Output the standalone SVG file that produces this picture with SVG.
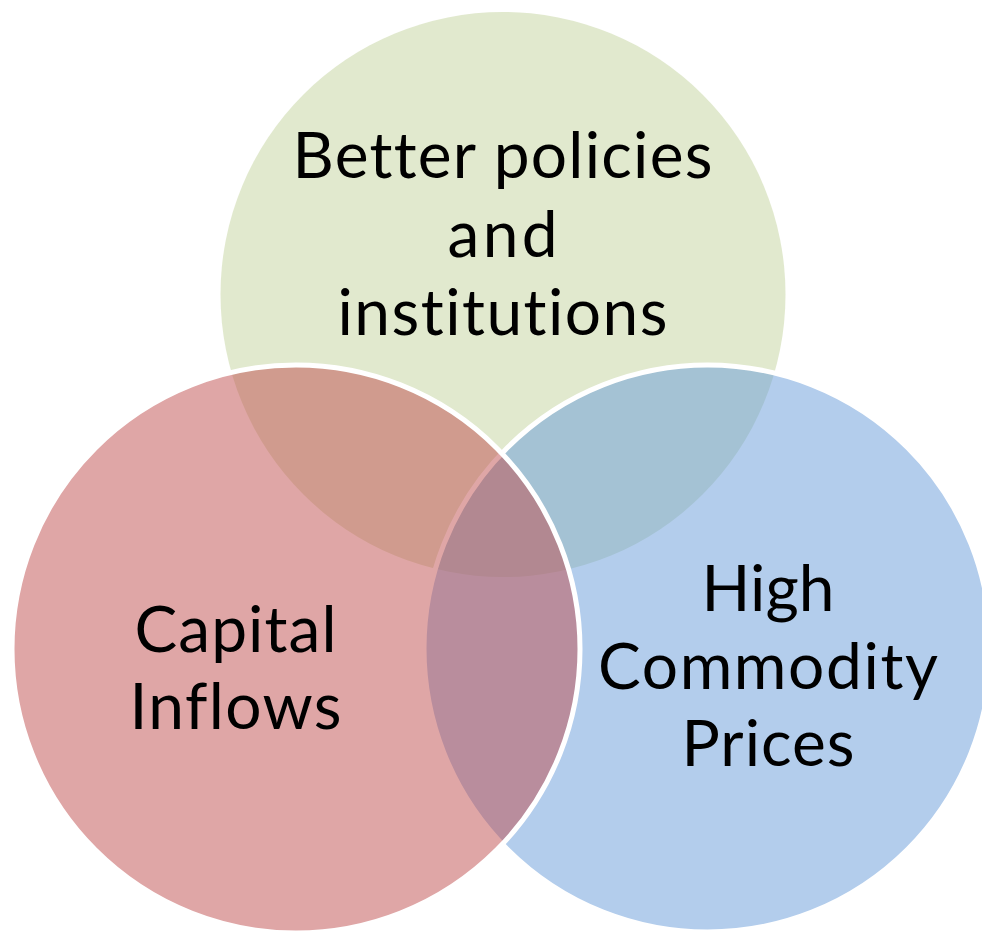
<svg xmlns="http://www.w3.org/2000/svg" width="982" height="931" viewBox="0 0 982 931">
  <style>
    .set { fill-opacity: 0.5; }
    .ring { stroke: #ffffff; stroke-width: 5; }
    .label { font-family: Lato, "Open Sans", "Liberation Sans", sans-serif; font-size: 64px; fill: #000000; text-anchor: middle; font-variant-ligatures: none; font-feature-settings: "liga" 0, "clig" 0, "dlig" 0; }
  </style>
  <rect x="0" y="0" width="982" height="931" fill="#ffffff"/>

  <!-- top set: policies -->
  <g id="node-policies">
    <circle class="set" cx="503" cy="294.5" r="282.5" fill="#C3D39D"/>
    <text class="label" x="502.5" y="178" textLength="420">Better policies</text>
    <text class="label" x="502.5" y="256.5" textLength="110">and</text>
    <text class="label" x="502.5" y="335" textLength="330">institutions</text>
  </g>

  <!-- right set: commodity prices -->
  <g id="node-commodities">
    <circle class="set ring" cx="707.5" cy="648.5" r="283.5" fill="#679BD9"/>
    <text class="label" x="768" y="611" textLength="133">High</text>
    <text class="label" x="768" y="689" textLength="340">Commodity</text>
    <text class="label" x="768" y="766" textLength="173">Prices</text>
  </g>

  <!-- left set: capital inflows, drawn last so its outline sits on top -->
  <g id="node-capital">
    <circle class="set ring" cx="296" cy="649" r="284" fill="#BF4D4D"/>
    <text class="label" x="235.5" y="652" textLength="202">Capital</text>
    <text class="label" x="235.5" y="729" textLength="212">Inflows</text>
  </g>
</svg>
